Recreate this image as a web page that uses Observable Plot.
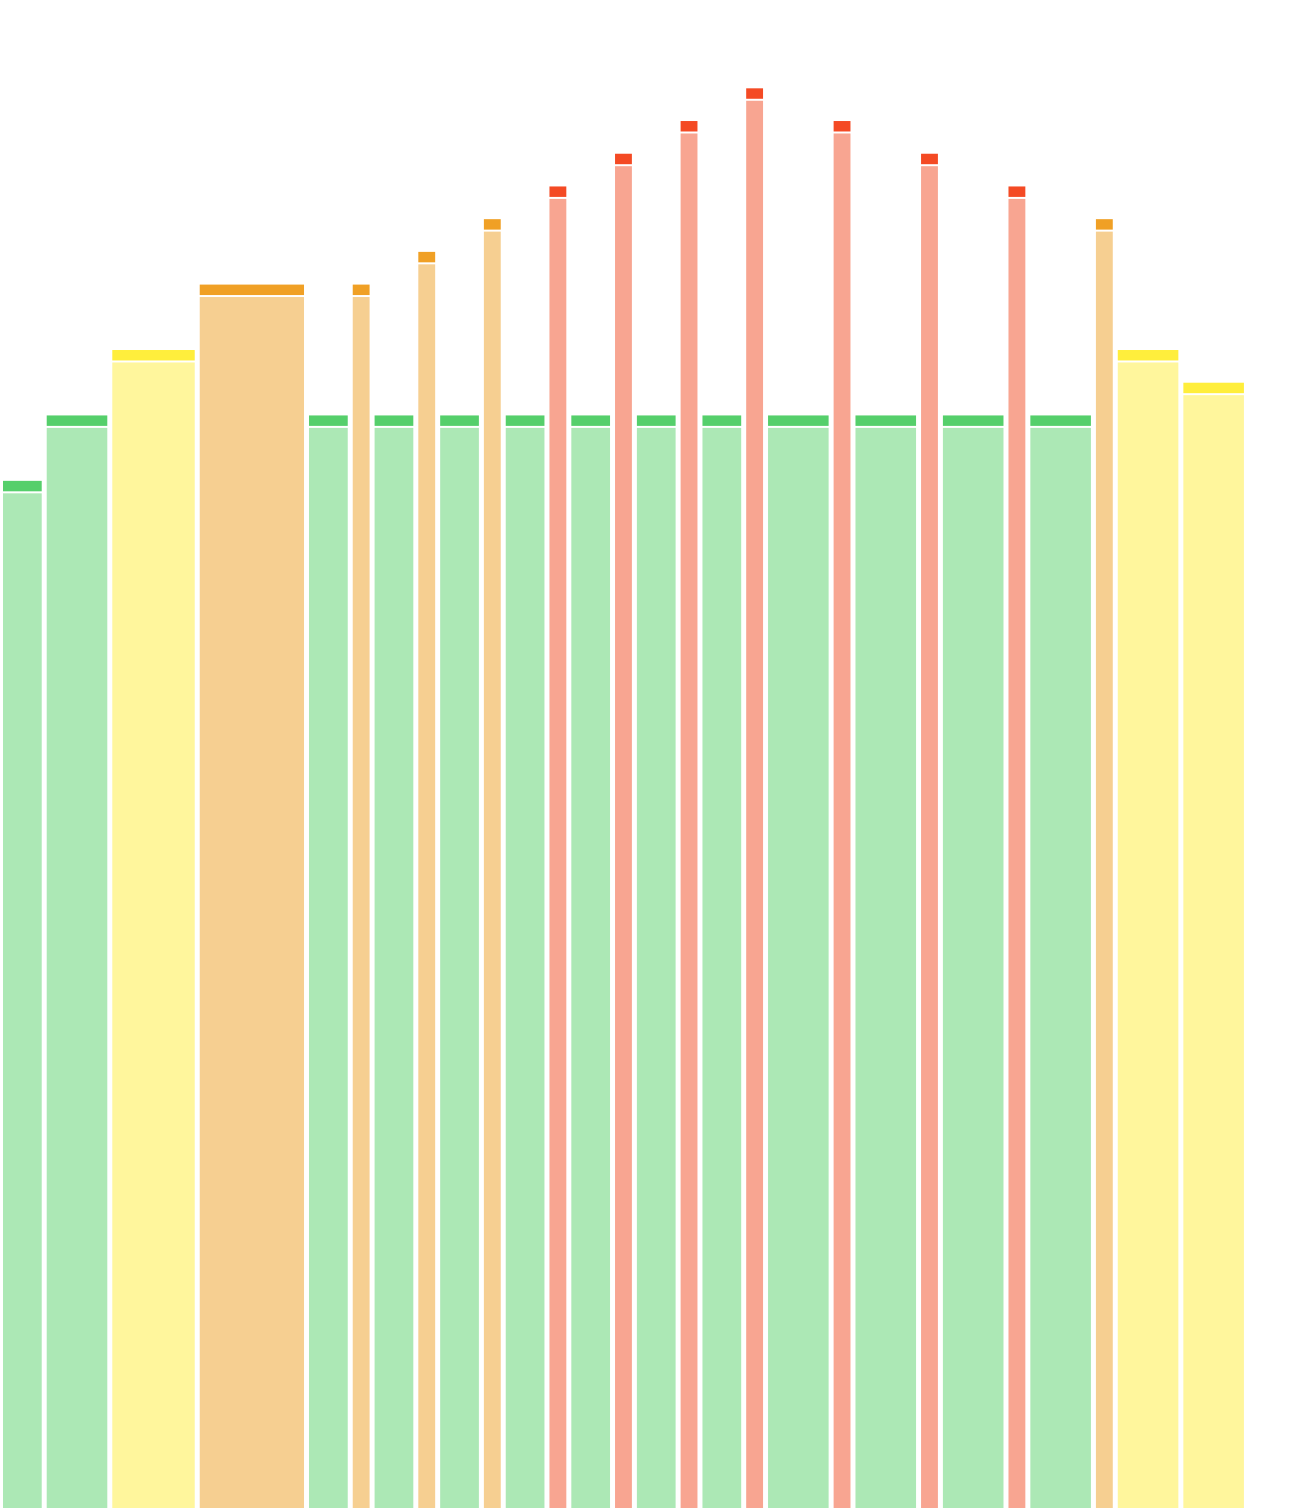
<!DOCTYPE html>
<html>
<head>
<meta charset="utf-8">
<script src="https://cdn.jsdelivr.net/npm/d3@7"></script>
<script src="https://cdn.jsdelivr.net/npm/@observablehq/plot@0.6"></script>
<style>
  html, body { margin: 0; padding: 0; background: white; overflow: hidden; }
  #chart svg { display: block; }
</style>
</head>
<body>
<div id="chart"></div>
<script>
// Bar widths (in x units), level categories and total heights (top of cap)
const widths = [2, 3, 4, 5, 2, 1, 2, 1, 2, 1, 2, 1, 2, 1, 2, 1, 2, 1, 3, 1, 3, 1, 3, 1, 3, 1, 3, 3];
const levels = ["green", "green", "yellow", "orange", "green", "orange", "green", "orange", "green", "orange",
                "green", "red", "green", "red", "green", "red", "green", "red", "green", "red",
                "green", "red", "green", "red", "green", "orange", "yellow", "yellow"];
const totals = [32, 34, 36, 38, 34, 38, 34, 39, 34, 40, 34, 41, 34, 42, 34, 43, 34, 44, 34, 43,
                34, 42, 34, 41, 34, 40, 36, 35];
const capHeight = 0.35;

const levelNames = ["green", "yellow", "orange", "red"];
const bodyColors = ["#ace8b5", "#fff69c", "#f6cf91", "#f8a591"];
const capColors  = ["#55cf6b", "#ffee3c", "#f0a025", "#f44a24"];

const cum = d3.cumsum(widths);
const bars = widths.map((w, i) => ({
  x1: cum[i] - w,
  x2: cum[i],
  level: levels[i],
  total: totals[i],
  base: totals[i] - capHeight
}));

const plot = Plot.plot({
  width: 1312,
  height: 1508,
  marginLeft: 0.5,
  marginRight: 0,
  marginTop: 0,
  marginBottom: 0,
  x: { domain: [0, 60], axis: null },
  y: { domain: [0.6, 46.7], axis: null },
  color: { domain: levelNames, range: bodyColors },
  marks: [
    Plot.rect(bars, {
      x1: "x1", x2: "x2", y1: 0, y2: "base",
      fill: d => bodyColors[levelNames.indexOf(d.level)],
      insetLeft: 2.5, insetRight: 2.5, insetTop: 1,
      clip: true
    }),
    Plot.rect(bars, {
      x1: "x1", x2: "x2", y1: "base", y2: "total",
      fill: d => capColors[levelNames.indexOf(d.level)],
      insetLeft: 2.5, insetRight: 2.5, insetBottom: 1,
      clip: true
    })
  ]
});
document.getElementById("chart").appendChild(plot);
</script>
</body>
</html>
